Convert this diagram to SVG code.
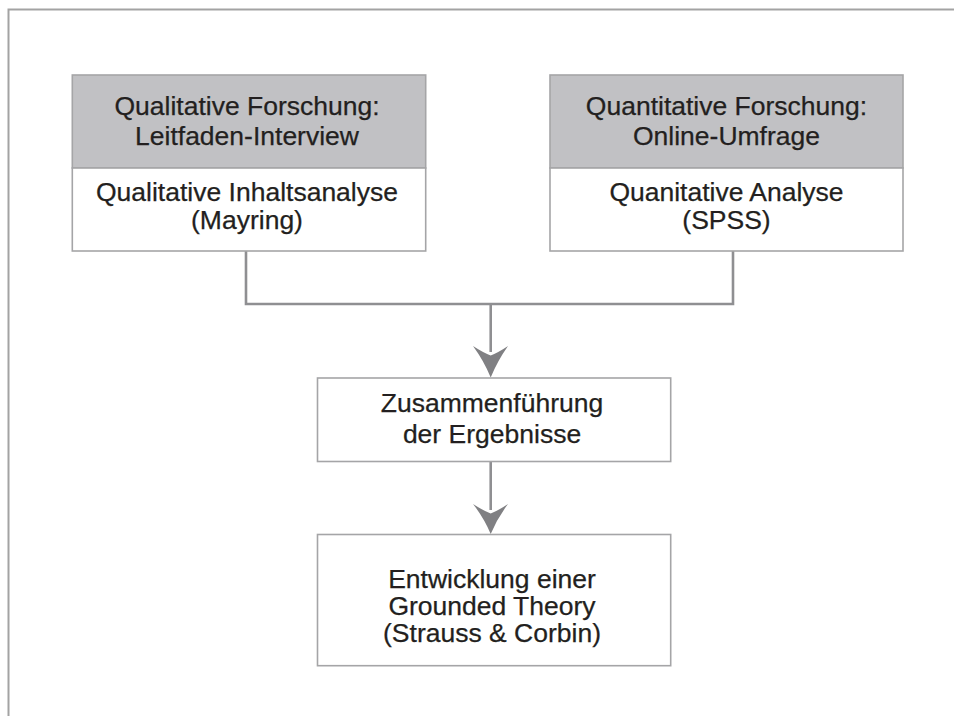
<svg xmlns="http://www.w3.org/2000/svg" width="954" height="716" viewBox="0 0 954 716">
<style>
.frame{fill:none;stroke:#a3a3a3;stroke-width:2}
.box{fill:#ffffff;stroke:#a5a5a7;stroke-width:1.6}
.band{fill:#c1c1c4;stroke:#a5a5a7;stroke-width:1.6}
.conn{fill:none;stroke:#8f8f92;stroke-width:2.6}
.head{fill:#808083;stroke:none}
text{font-family:"Liberation Sans",Arial,sans-serif;font-size:26.5px;fill:#231f20;stroke:#231f20;stroke-width:0.25;text-anchor:middle}
</style>
<rect width="954" height="716" fill="#ffffff"/>
<path class="frame" d="M8.5,716 V9.5 H954"/>
<g id="connectors">
<path class="conn" d="M246,251 V304 H733 V251"/>
<path class="conn" d="M490.7,304 V352"/>
<path class="head" d="M490.7,377.5 Q484,361 473,346 Q483,352.5 490.7,355.5 Q498.4,352.5 508,346 Q497.4,361 490.7,377.5 Z"/>
<path class="conn" d="M490.7,461.5 V510"/>
<path class="head" d="M490.7,534 Q484,518 473,504 Q483,510.5 490.7,513.5 Q498.4,510.5 508,504 Q497.4,518 490.7,534 Z"/>
</g>
<g id="qual">
<rect class="band" x="72.3" y="75" width="353.4" height="93"/>
<rect class="box" x="72.3" y="168" width="353.4" height="83"/>
<text x="247" y="115">Qualitative Forschung:</text>
<text x="247" y="145">Leitfaden-Interview</text>
<text x="247" y="201">Qualitative Inhaltsanalyse</text>
<text x="247" y="229">(Mayring)</text>
</g>
<g id="quant">
<rect class="band" x="550" y="75" width="353" height="93"/>
<rect class="box" x="550" y="168" width="353" height="83"/>
<text x="726.5" y="115">Quantitative Forschung:</text>
<text x="726.5" y="145">Online-Umfrage</text>
<text x="726.5" y="201">Quanitative Analyse</text>
<text x="726.5" y="229">(SPSS)</text>
</g>
<g id="merge">
<rect class="box" x="317.5" y="378" width="353.2" height="83.5"/>
<text x="492" y="412">Zusammenführung</text>
<text x="492" y="443">der Ergebnisse</text>
</g>
<g id="theory">
<rect class="box" x="317.5" y="534.5" width="353.2" height="131.2"/>
<text x="492" y="588">Entwicklung einer</text>
<text x="492" y="615">Grounded Theory</text>
<text x="492" y="642">(Strauss &amp; Corbin)</text>
</g>
</svg>
